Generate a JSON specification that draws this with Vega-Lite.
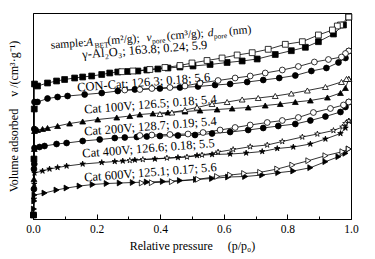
{
"$schema":"https://vega.github.io/schema/vega-lite/v6.json",
"width":318,"height":206,
"autosize":{"type":"none"},
"padding":{"left":33,"top":13,"right":24,"bottom":40},
"config":{"font":"Liberation Serif","view":{"stroke":"black","strokeWidth":1}},
"datasets":{
"iso":[
{"s":"g","b":"a","p":0.0015,"v":4},{"s":"g","b":"a","p":0.003,"v":60},{"s":"g","b":"a","p":0.004,"v":110},{"s":"g","b":"a","p":0.0047,"v":135},{"s":"g","b":"a","p":0.0142,"v":133},{"s":"g","b":"a","p":0.0457,"v":136},{"s":"g","b":"a","p":0.0741,"v":138},{"s":"g","b":"a","p":0.0994,"v":139.5},{"s":"g","b":"a","p":0.1309,"v":141},{"s":"g","b":"a","p":0.1562,"v":142},{"s":"g","b":"a","p":0.1845,"v":143},{"s":"g","b":"a","p":0.2161,"v":144.5},{"s":"g","b":"a","p":0.2413,"v":146},{"s":"g","b":"a","p":0.2666,"v":147},{"s":"g","b":"a","p":0.2981,"v":147.5},{"s":"g","b":"a","p":0.3297,"v":148},{"s":"g","b":"a","p":0.358,"v":149},{"s":"g","b":"a","p":0.3927,"v":150},{"s":"g","b":"a","p":0.4243,"v":151},{"s":"g","b":"a","p":0.4621,"v":152},{"s":"g","b":"a","p":0.5032,"v":153},{"s":"g","b":"a","p":0.5568,"v":154.5},{"s":"g","b":"a","p":0.6104,"v":156.5},{"s":"g","b":"a","p":0.6577,"v":158},{"s":"g","b":"a","p":0.705,"v":160},{"s":"g","b":"a","p":0.7618,"v":164.5},{"s":"g","b":"a","p":0.8123,"v":168.3},{"s":"g","b":"a","p":0.8565,"v":171.7},{"s":"g","b":"a","p":0.8975,"v":177.3},{"s":"g","b":"a","p":0.9448,"v":185},{"s":"g","b":"a","p":0.9763,"v":194},{"s":"g","b":"a","p":0.993,"v":202},
{"s":"g","b":"d","p":0.993,"v":202},{"s":"g","b":"d","p":0.967,"v":194},{"s":"g","b":"d","p":0.957,"v":193},{"s":"g","b":"d","p":0.9416,"v":189},{"s":"g","b":"d","p":0.8975,"v":184},{"s":"g","b":"d","p":0.847,"v":177.3},{"s":"g","b":"d","p":0.7934,"v":174.7},{"s":"g","b":"d","p":0.7397,"v":169.7},{"s":"g","b":"d","p":0.6893,"v":166.3},{"s":"g","b":"d","p":0.642,"v":164},{"s":"g","b":"d","p":0.5946,"v":161},{"s":"g","b":"d","p":0.5473,"v":158.5},{"s":"g","b":"d","p":0.5,"v":156},{"s":"g","b":"d","p":0.4621,"v":153.5},{"s":"g","b":"d","p":0.4148,"v":151.5},{"s":"g","b":"d","p":0.3675,"v":149.5},{"s":"g","b":"d","p":0.3139,"v":148},{"s":"g","b":"d","p":0.2792,"v":147.3},
{"s":"con","b":"a","p":0.0015,"v":4},{"s":"con","b":"a","p":0.003,"v":50},{"s":"con","b":"a","p":0.004,"v":90},{"s":"con","b":"a","p":0.0047,"v":117},{"s":"con","b":"a","p":0.0142,"v":117},{"s":"con","b":"a","p":0.0457,"v":120.5},{"s":"con","b":"a","p":0.0773,"v":122},{"s":"con","b":"a","p":0.1088,"v":123},{"s":"con","b":"a","p":0.1625,"v":124.5},{"s":"con","b":"a","p":0.2161,"v":126},{"s":"con","b":"a","p":0.2666,"v":128},{"s":"con","b":"a","p":0.3202,"v":129.5},{"s":"con","b":"a","p":0.3991,"v":130.5},{"s":"con","b":"a","p":0.4621,"v":131.5},{"s":"con","b":"a","p":0.5189,"v":132.5},{"s":"con","b":"a","p":0.5726,"v":134},{"s":"con","b":"a","p":0.6199,"v":135},{"s":"con","b":"a","p":0.6735,"v":137},{"s":"con","b":"a","p":0.724,"v":139},{"s":"con","b":"a","p":0.7744,"v":141},{"s":"con","b":"a","p":0.8249,"v":143.5},{"s":"con","b":"a","p":0.8754,"v":148},{"s":"con","b":"a","p":0.9227,"v":151},{"s":"con","b":"a","p":0.9606,"v":156.5},{"s":"con","b":"a","p":0.9826,"v":161},{"s":"con","b":"a","p":0.993,"v":168},
{"s":"con","b":"d","p":0.993,"v":168},{"s":"con","b":"d","p":0.9826,"v":165.5},{"s":"con","b":"d","p":0.97,"v":162},{"s":"con","b":"d","p":0.929,"v":159.5},{"s":"con","b":"d","p":0.8849,"v":157},{"s":"con","b":"d","p":0.8344,"v":152.5},{"s":"con","b":"d","p":0.7839,"v":149},{"s":"con","b":"d","p":0.7303,"v":146},{"s":"con","b":"d","p":0.683,"v":143},{"s":"con","b":"d","p":0.6356,"v":141},{"s":"con","b":"d","p":0.582,"v":138.5},{"s":"con","b":"d","p":0.5252,"v":136},{"s":"con","b":"d","p":0.4779,"v":133},{"s":"con","b":"d","p":0.4306,"v":131.5},{"s":"con","b":"d","p":0.3738,"v":130.5},{"s":"con","b":"d","p":0.336,"v":129.5},{"s":"con","b":"d","p":0.2886,"v":129},
{"s":"c100","b":"a","p":0.0015,"v":4},{"s":"c100","b":"a","p":0.003,"v":40},{"s":"c100","b":"a","p":0.004,"v":70},{"s":"c100","b":"a","p":0.0047,"v":88},{"s":"c100","b":"a","p":0.0142,"v":89},{"s":"c100","b":"a","p":0.03,"v":90},{"s":"c100","b":"a","p":0.0457,"v":91},{"s":"c100","b":"a","p":0.0773,"v":93},{"s":"c100","b":"a","p":0.1151,"v":95.5},{"s":"c100","b":"a","p":0.1562,"v":97.5},{"s":"c100","b":"a","p":0.2035,"v":99.5},{"s":"c100","b":"a","p":0.2634,"v":101.5},{"s":"c100","b":"a","p":0.3044,"v":103},{"s":"c100","b":"a","p":0.336,"v":104.5},{"s":"c100","b":"a","p":0.377,"v":105.5},{"s":"c100","b":"a","p":0.4243,"v":106.5},{"s":"c100","b":"a","p":0.4779,"v":107.5},{"s":"c100","b":"a","p":0.5252,"v":108.5},{"s":"c100","b":"a","p":0.5789,"v":109.5},{"s":"c100","b":"a","p":0.6262,"v":110.5},{"s":"c100","b":"a","p":0.6767,"v":111.5},{"s":"c100","b":"a","p":0.7303,"v":113.5},{"s":"c100","b":"a","p":0.7776,"v":115},{"s":"c100","b":"a","p":0.8249,"v":117},{"s":"c100","b":"a","p":0.8722,"v":118.5},{"s":"c100","b":"a","p":0.9259,"v":121.5},{"s":"c100","b":"a","p":0.9669,"v":126},{"s":"c100","b":"a","p":0.9826,"v":131},{"s":"c100","b":"a","p":0.993,"v":140},
{"s":"c100","b":"d","p":0.993,"v":140},{"s":"c100","b":"d","p":0.9858,"v":140},{"s":"c100","b":"d","p":0.97,"v":137},{"s":"c100","b":"d","p":0.9196,"v":132},{"s":"c100","b":"d","p":0.8628,"v":128.5},{"s":"c100","b":"d","p":0.8123,"v":125.5},{"s":"c100","b":"d","p":0.7618,"v":123},{"s":"c100","b":"d","p":0.7082,"v":121},{"s":"c100","b":"d","p":0.6577,"v":119.5},{"s":"c100","b":"d","p":0.6104,"v":117},{"s":"c100","b":"d","p":0.5631,"v":115},{"s":"c100","b":"d","p":0.5158,"v":111.5},{"s":"c100","b":"d","p":0.4779,"v":109},{"s":"c100","b":"d","p":0.4369,"v":106.5},{"s":"c100","b":"d","p":0.3991,"v":105},
{"s":"c200","b":"a","p":0.0015,"v":4},{"s":"c200","b":"a","p":0.003,"v":30},{"s":"c200","b":"a","p":0.004,"v":55},{"s":"c200","b":"a","p":0.0047,"v":71},{"s":"c200","b":"a","p":0.0205,"v":72},{"s":"c200","b":"a","p":0.0363,"v":73},{"s":"c200","b":"a","p":0.0741,"v":75},{"s":"c200","b":"a","p":0.1057,"v":76},{"s":"c200","b":"a","p":0.1562,"v":78},{"s":"c200","b":"a","p":0.2098,"v":79.5},{"s":"c200","b":"a","p":0.2571,"v":81},{"s":"c200","b":"a","p":0.2886,"v":81.5},{"s":"c200","b":"a","p":0.3265,"v":82},{"s":"c200","b":"a","p":0.358,"v":82.5},{"s":"c200","b":"a","p":0.3991,"v":83},{"s":"c200","b":"a","p":0.4558,"v":83.5},{"s":"c200","b":"a","p":0.5095,"v":84},{"s":"c200","b":"a","p":0.5631,"v":85.5},{"s":"c200","b":"a","p":0.6199,"v":87},{"s":"c200","b":"a","p":0.6767,"v":89},{"s":"c200","b":"a","p":0.724,"v":91},{"s":"c200","b":"a","p":0.7713,"v":93},{"s":"c200","b":"a","p":0.8249,"v":95},{"s":"c200","b":"a","p":0.8722,"v":98.5},{"s":"c200","b":"a","p":0.9196,"v":102.5},{"s":"c200","b":"a","p":0.9669,"v":107},{"s":"c200","b":"a","p":0.9826,"v":112},{"s":"c200","b":"a","p":0.993,"v":117},
{"s":"c200","b":"d","p":0.993,"v":117},{"s":"c200","b":"d","p":0.9763,"v":114},{"s":"c200","b":"d","p":0.9353,"v":110.5},{"s":"c200","b":"d","p":0.8817,"v":106.5},{"s":"c200","b":"d","p":0.8344,"v":101.5},{"s":"c200","b":"d","p":0.7839,"v":98.5},{"s":"c200","b":"d","p":0.7366,"v":96.5},{"s":"c200","b":"d","p":0.683,"v":94},{"s":"c200","b":"d","p":0.6356,"v":91.5},{"s":"c200","b":"d","p":0.5883,"v":89},{"s":"c200","b":"d","p":0.5347,"v":86.5},{"s":"c200","b":"d","p":0.4874,"v":85},{"s":"c200","b":"d","p":0.4306,"v":84.5},{"s":"c200","b":"d","p":0.3738,"v":84},{"s":"c200","b":"d","p":0.336,"v":83.5},
{"s":"c400","b":"a","p":0.0015,"v":4},{"s":"c400","b":"a","p":0.003,"v":20},{"s":"c400","b":"a","p":0.004,"v":35},{"s":"c400","b":"a","p":0.0047,"v":46},{"s":"c400","b":"a","p":0.03,"v":48},{"s":"c400","b":"a","p":0.052,"v":50},{"s":"c400","b":"a","p":0.0773,"v":51.5},{"s":"c400","b":"a","p":0.1057,"v":53},{"s":"c400","b":"a","p":0.1562,"v":55},{"s":"c400","b":"a","p":0.2161,"v":56.5},{"s":"c400","b":"a","p":0.2571,"v":57.5},{"s":"c400","b":"a","p":0.2823,"v":58},{"s":"c400","b":"a","p":0.3202,"v":59},{"s":"c400","b":"a","p":0.3833,"v":60},{"s":"c400","b":"a","p":0.4558,"v":61.5},{"s":"c400","b":"a","p":0.5158,"v":63.5},{"s":"c400","b":"a","p":0.5631,"v":64.5},{"s":"c400","b":"a","p":0.6199,"v":65},{"s":"c400","b":"a","p":0.6703,"v":66},{"s":"c400","b":"a","p":0.7208,"v":67.5},{"s":"c400","b":"a","p":0.7681,"v":70.5},{"s":"c400","b":"a","p":0.8186,"v":72},{"s":"c400","b":"a","p":0.8722,"v":75},{"s":"c400","b":"a","p":0.9196,"v":80},{"s":"c400","b":"a","p":0.9669,"v":85.5},{"s":"c400","b":"a","p":0.9826,"v":91},{"s":"c400","b":"a","p":0.993,"v":98},
{"s":"c400","b":"d","p":0.993,"v":98},{"s":"c400","b":"d","p":0.9826,"v":95.5},{"s":"c400","b":"d","p":0.9732,"v":92},{"s":"c400","b":"d","p":0.9448,"v":88.5},{"s":"c400","b":"d","p":0.8943,"v":85},{"s":"c400","b":"d","p":0.847,"v":82},{"s":"c400","b":"d","p":0.7839,"v":77.5},{"s":"c400","b":"d","p":0.7366,"v":74},{"s":"c400","b":"d","p":0.683,"v":72.3},{"s":"c400","b":"d","p":0.6293,"v":69.5},{"s":"c400","b":"d","p":0.582,"v":67},{"s":"c400","b":"d","p":0.5315,"v":64},{"s":"c400","b":"d","p":0.4842,"v":62},{"s":"c400","b":"d","p":0.4211,"v":61},{"s":"c400","b":"d","p":0.3454,"v":59.5},{"s":"c400","b":"d","p":0.3044,"v":58.5},
{"s":"c600","b":"a","p":0.0015,"v":4},{"s":"c600","b":"a","p":0.003,"v":10},{"s":"c600","b":"a","p":0.004,"v":18},{"s":"c600","b":"a","p":0.0047,"v":24},{"s":"c600","b":"a","p":0.0363,"v":26},{"s":"c600","b":"a","p":0.0741,"v":29},{"s":"c600","b":"a","p":0.1057,"v":31},{"s":"c600","b":"a","p":0.1467,"v":33},{"s":"c600","b":"a","p":0.1877,"v":34.5},{"s":"c600","b":"a","p":0.2319,"v":35.5},{"s":"c600","b":"a","p":0.2729,"v":36},{"s":"c600","b":"a","p":0.3139,"v":36.5},{"s":"c600","b":"a","p":0.358,"v":37},{"s":"c600","b":"a","p":0.4085,"v":37.5},{"s":"c600","b":"a","p":0.4621,"v":38.5},{"s":"c600","b":"a","p":0.5126,"v":39.5},{"s":"c600","b":"a","p":0.5631,"v":40.5},{"s":"c600","b":"a","p":0.6136,"v":42},{"s":"c600","b":"a","p":0.6672,"v":42.5},{"s":"c600","b":"a","p":0.7208,"v":44},{"s":"c600","b":"a","p":0.7713,"v":46.3},{"s":"c600","b":"a","p":0.8186,"v":48},{"s":"c600","b":"a","p":0.8722,"v":51.3},{"s":"c600","b":"a","p":0.9196,"v":57.3},{"s":"c600","b":"a","p":0.9606,"v":62.3},{"s":"c600","b":"a","p":0.9826,"v":65.7},{"s":"c600","b":"a","p":0.993,"v":70},
{"s":"c600","b":"d","p":0.993,"v":70},{"s":"c600","b":"d","p":0.9732,"v":67.3},{"s":"c600","b":"d","p":0.9196,"v":63.3},{"s":"c600","b":"d","p":0.8659,"v":58.3},{"s":"c600","b":"d","p":0.8155,"v":54},{"s":"c600","b":"d","p":0.7681,"v":50},{"s":"c600","b":"d","p":0.7145,"v":46.7},{"s":"c600","b":"d","p":0.664,"v":45.5},{"s":"c600","b":"d","p":0.6199,"v":44},{"s":"c600","b":"d","p":0.5789,"v":42.5},{"s":"c600","b":"d","p":0.5189,"v":39.7},{"s":"c600","b":"d","p":0.4369,"v":37.3},{"s":"c600","b":"d","p":0.3738,"v":36.3},{"s":"c600","b":"d","p":0.3423,"v":36}
],
"hdr":[{"p":0.0568,"v":170.3,"t":"sample:"},{"p":0.235,"v":174.7,"t":"(m²/g);"},{"p":0.421,"v":179.3,"t":"(cm³/g);"},{"p":0.617,"v":184.2,"t":"(nm)"}],
"hdrI":[{"p":0.1672,"v":173,"t":"A"},{"p":0.358,"v":177.8,"t":"v"},{"p":0.55,"v":182.6,"t":"d"}],
"hdrS":[{"p":0.194,"v":170.7,"t":"BET"},{"p":0.375,"v":175.2,"t":"pore"},{"p":0.569,"v":180,"t":"pore"}],
"lab":[{"p":0.156,"v":160.5,"t":"γ-Al₂O₃; 163.8; 0.24; 5.9"},{"p":0.14,"v":127.5,"t":"CON-Cat; 126.3; 0.18; 5.6"},{"p":0.162,"v":105.5,"t":"Cat 100V; 126.5; 0.18; 5.4"},{"p":0.162,"v":83.5,"t":"Cat 200V; 128.7; 0.19; 5.4"},{"p":0.156,"v":61.5,"t":"Cat 400V; 126.6; 0.18; 5.5"},{"p":0.162,"v":37.5,"t":"Cat 600V; 125.1; 0.17; 5.6"}]
},
"resolve":{"axis":{"x":"independent","y":"independent"}},
"layer":[
{"data":{"name":"iso"},"mark":{"type":"line","color":"black","strokeWidth":0.8},
 "encoding":{
  "x":{"field":"p","type":"quantitative","scale":{"domain":[0,1],"nice":false},
   "axis":{"orient":"bottom","values":[0,0.2,0.4,0.6,0.8,1],"format":".1f","tickSize":-5,"tickColor":"black","domainColor":"black","labelFontSize":11.5,"labelColor":"black","labelPadding":9,"labelFlush":false,"grid":false,"title":"Relative pressure\u00a0\u00a0\u00a0\u00a0\u00a0(p/p₀)","titleFontSize":12,"titleFontWeight":"normal","titleColor":"black","titlePadding":6}},
  "y":{"field":"v","type":"quantitative","scale":{"domain":[0,206],"nice":false,"zero":false},
   "axis":{"orient":"left","domain":true,"labels":false,"ticks":false,"grid":false,"domainColor":"black","title":"Volume adsorbed\u00a0\u00a0\u00a0\u00a0v /(cm³·g⁻¹)","titleFontSize":12,"titleFontWeight":"normal","titleColor":"black","titlePadding":13}},
  "detail":[{"field":"s"},{"field":"b"}]}},
{"data":{"name":"iso"},"mark":{"type":"point","filled":true,"stroke":"black","strokeWidth":0.8,"size":34,"opacity":1},
 "encoding":{
  "x":{"field":"p","type":"quantitative","axis":{"orient":"bottom","values":[0.1,0.3,0.5,0.7,0.9],"tickSize":-3,"tickColor":"black","labels":false,"domain":false,"grid":false,"title":null}},
  "y":{"field":"v","type":"quantitative","axis":null},
  "shape":{"field":"s","scale":{"domain":["g","con","c100","c200","c400","c600"],"range":["square","circle","triangle-up","circle","M0,-1L0.2245,-0.309L0.951,-0.309L0.363,0.118L0.588,0.809L0,0.382L-0.588,0.809L-0.363,0.118L-0.951,-0.309L-0.2245,-0.309Z","triangle-right"]},"legend":null},
  "fill":{"field":"b","scale":{"domain":["a","d"],"range":["black","white"]},"legend":null}}},
{"data":{"name":"hdr"},"mark":{"type":"text","align":"left","baseline":"alphabetic","fontSize":11.5,"angle":355.5,"color":"black"},
 "encoding":{"x":{"field":"p","type":"quantitative","axis":null},"y":{"field":"v","type":"quantitative","axis":null},"text":{"field":"t"}}},
{"data":{"name":"hdrI"},"mark":{"type":"text","align":"left","baseline":"alphabetic","fontSize":11.5,"fontStyle":"italic","angle":355.5,"color":"black"},
 "encoding":{"x":{"field":"p","type":"quantitative","axis":null},"y":{"field":"v","type":"quantitative","axis":null},"text":{"field":"t"}}},
{"data":{"name":"hdrS"},"mark":{"type":"text","align":"left","baseline":"alphabetic","fontSize":7.5,"angle":355.5,"color":"black"},
 "encoding":{"x":{"field":"p","type":"quantitative","axis":null},"y":{"field":"v","type":"quantitative","axis":null},"text":{"field":"t"}}},
{"data":{"name":"lab"},"mark":{"type":"text","align":"left","baseline":"alphabetic","fontSize":12.5,"angle":355.5,"color":"black"},
 "encoding":{"x":{"field":"p","type":"quantitative","axis":null},"y":{"field":"v","type":"quantitative","axis":null},"text":{"field":"t"}}}
]
}
